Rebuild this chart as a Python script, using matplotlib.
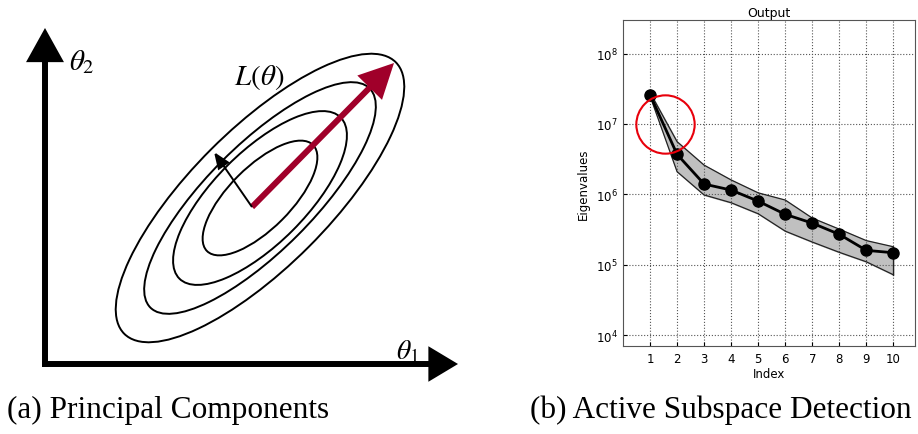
import numpy as np
import matplotlib
matplotlib.use("Agg")
import matplotlib.pyplot as plt
from matplotlib.patches import Ellipse, FancyArrowPatch

plt.rcParams['mathtext.fontset'] = 'stix'

# eigenvalue spectrum (panel b)
index = [1, 2, 3, 4, 5, 6, 7, 8, 9, 10]
eig_mean = [2.6e7, 3.7e6, 1.4e6, 1.15e6, 8.0e5, 5.2e5, 3.9e5, 2.7e5, 1.6e5, 1.48e5]
eig_upper = [2.8e7, 5.6e6, 2.6e6, 1.6e6, 1.05e6, 8.3e5, 4.6e5, 3.2e5, 2.2e5, 1.8e5]
eig_lower = [2.5e7, 2.1e6, 9.8e5, 7.6e5, 5.3e5, 3.0e5, 2.1e5, 1.5e5, 1.1e5, 7.2e4]
ytick_vals = [1e4, 1e5, 1e6, 1e7, 1e8]

# contour ellipses of L(theta) (panel a), semi-axes in sketch units
semi_major = [192, 155, 114, 75]
semi_minor = [69, 53, 46, 31]


def arrow(ax, start, end, hl, hw, lw, color):
    ax.add_patch(FancyArrowPatch(start, end,
                                 arrowstyle='-|>,head_length=%g,head_width=%g' % (hl, hw),
                                 mutation_scale=1, lw=lw, color=color,
                                 shrinkA=0, shrinkB=0, joinstyle='miter', capstyle='butt'))


fig = plt.figure(figsize=(9.18, 4.35), dpi=100)

# ---- panel (a): sketch drawn in pixel-like units, y pointing up
ax = fig.add_axes([0, 0, 460 / 918, 1])
ax.set_xlim(0, 460)
ax.set_ylim(0, 435)
ax.axis('off')

cx, cy = 260, 236
for a, b in zip(semi_major, semi_minor):
    ax.add_patch(Ellipse((cx, cy), 2 * a, 2 * b, angle=45, fill=False,
                         ec='black', lw=1.4))

# coordinate axes
arrow(ax, (45, 67), (45, 406), 18, 10, 4.3, 'black')
arrow(ax, (42, 70), (458, 70), 15, 9, 4.3, 'black')

# principal directions
arrow(ax, (252, 227), (394, 371), 18, 9, 4.3, '#a0002a')
arrow(ax, (252, 227), (214, 282), 10, 4, 1.4, 'black')

ax.text(69, 373, r'$\theta_2$', fontsize=21, ha='left', va='center')
ax.text(396, 84, r'$\theta_1$', fontsize=20, ha='left', va='center')
ax.text(234, 357, r'$L(\theta)$', fontsize=21, ha='left', va='center')

fig.text(7 / 918, 1 - 410 / 435, '(a) Principal Components', fontsize=22.5,
         family='Liberation Serif', ha='left', va='center')
fig.text(530 / 918, 1 - 410 / 435, '(b) Active Subspace Detection', fontsize=22.5,
         family='Liberation Serif', ha='left', va='center')

# ---- panel (b): eigenvalues
bx = fig.add_axes([623 / 918, 88 / 435, 292 / 918, 326 / 435])
bx.fill_between(index, eig_lower, eig_upper, color='#c0c0c0', zorder=1)
bx.plot(index, eig_upper, color='#222222', lw=0.9, zorder=2)
bx.plot(index, eig_lower, color='#222222', lw=0.9, zorder=2)
bx.plot([index[-1], index[-1]], [eig_lower[-1], eig_upper[-1]], color='#222222', lw=0.9, zorder=2)
bx.plot(index, eig_mean, color='black', lw=2, marker='o', markersize=8, zorder=3)
bx.plot([1.57], [1e7], marker='o', markersize=42, mfc='none', mec='#e8000b', mew=1.5,
        zorder=4, clip_on=False)

bx.set_yscale('log')
bx.set_xlim(0, 10.8)
bx.set_ylim(7e3, 3e8)
bx.set_xticks(index)
bx.set_yticks(ytick_vals)
bx.minorticks_off()
bx.tick_params(labelsize=8.5, direction='in', length=3, pad=4)
bx.grid(True, ls=':', color='#555555', lw=0.8)
bx.set_xlabel('Index', fontsize=8.5, labelpad=2)
bx.set_ylabel('Eigenvalues', fontsize=8.5, labelpad=4)
bx.set_title('Output', fontsize=9, pad=3)
for s in bx.spines.values():
    s.set_color('#555555')

fig.savefig('out.png', dpi=100)
